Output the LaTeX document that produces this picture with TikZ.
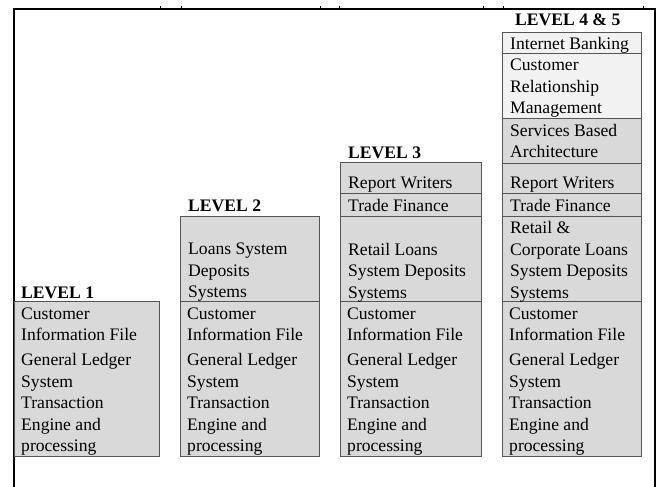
\documentclass[tikz,border=0pt]{standalone}
\usepackage{fontspec}
\setmainfont{Liberation Serif}
\usetikzlibrary{positioning}
\definecolor{cellgray}{HTML}{D9D9D9}
\definecolor{celllight}{HTML}{F2F2F2}
\definecolor{cellline}{HTML}{555555}
\tikzset{
  cell/.style={rectangle, anchor=north west, draw=cellline, fill=cellgray, line width=0.8pt, inner sep=0pt},
  lightcell/.style={cell, fill=celllight},
  celltext/.style={anchor=north west, align=left, inner sep=0pt, font=\fontsize{17.6}{21.5}\selectfont},
  level/.style={anchor=base west, inner sep=0pt, font=\fontsize{17.6}{21.5}\selectfont\bfseries},
  frame/.style={line width=1.2pt, draw=black},
  tick/.style={line width=0.6pt, draw=black}
}

\begin{document}
\begin{tikzpicture}[x=1pt, y=-1pt]
\useasboundingbox (0,0) rectangle (662,487);

\draw[frame] (14,487) -- (14,9) -- (655,9) -- (655,487);
\foreach \x in {160,181,320,339,483,503,643} {
  \draw[tick] (\x,9) -- (\x,6);
}

% level headers
\node[level] (lev1) at (21,298) {LEVEL 1};
\node[level] (lev2) at (188,211) {LEVEL 2};
\node[level] (lev3) at (348,158) {LEVEL 3};
\node[level] (lev45) at (515,26) {LEVEL 4 \& 5};

% core systems, same in every level
\foreach \x/\w/\n in {14/145/l1core,180/139/l2core,340/141/l3core,502/139/l45core} {
  \node[cell, minimum width=\w, minimum height=155] (\n) at (\x,301) {};
  \node[celltext] (\n txt) at ([shift={(7,6.5)}]\n.north west)
    {Customer\\Information File\\[3.5pt]General Ledger\\System\\Transaction\\Engine and\\processing};
}

% level 2
\node[cell, minimum width=139, minimum height=85] (l2loans) at (180,216) {};
\node[celltext] (l2loanstxt) at ([shift={(8,27)}]l2loans.north west) {Loans System\\Deposits\\Systems};

% level 3
\node[cell, minimum width=141, minimum height=85] (l3loans) at (340,216) {};
\node[celltext] (l3loanstxt) at ([shift={(8,27)}]l3loans.north west) {Retail Loans\\System Deposits\\Systems};
\node[cell, minimum width=141, minimum height=23] (l3trade) at (340,193) {};
\node[celltext] (l3tradetxt) at ([shift={(8,6)}]l3trade.north west) {Trade Finance};
\node[cell, minimum width=141, minimum height=31] (l3report) at (340,162) {};
\node[celltext] (l3reporttxt) at ([shift={(8,15)}]l3report.north west) {Report Writers};

% level 4 & 5
\node[cell, minimum width=139, minimum height=85] (l45loans) at (502,216) {};
\node[celltext] (l45loanstxt) at ([shift={(8,5.5)}]l45loans.north west) {Retail \&\\Corporate Loans\\System Deposits\\Systems};
\node[cell, minimum width=139, minimum height=23] (l45trade) at (502,193) {};
\node[celltext] (l45tradetxt) at ([shift={(8,6)}]l45trade.north west) {Trade Finance};
\node[cell, minimum width=139, minimum height=30] (l45report) at (502,163) {};
\node[celltext] (l45reporttxt) at ([shift={(8,14)}]l45report.north west) {Report Writers};
\node[cell, minimum width=139, minimum height=45] (l45soa) at (502,118) {};
\node[celltext] (l45soatxt) at ([shift={(8,6)}]l45soa.north west) {Services Based\\Architecture};
\node[lightcell, minimum width=139, minimum height=65] (l45crm) at (502,53) {};
\node[celltext] (l45crmtxt) at ([shift={(8,6)}]l45crm.north west) {Customer\\Relationship\\Management};
\node[lightcell, minimum width=139, minimum height=21] (l45web) at (502,32) {};
\node[celltext] (l45webtxt) at ([shift={(8,5)}]l45web.north west) {Internet Banking};

\end{tikzpicture}
\end{document}
